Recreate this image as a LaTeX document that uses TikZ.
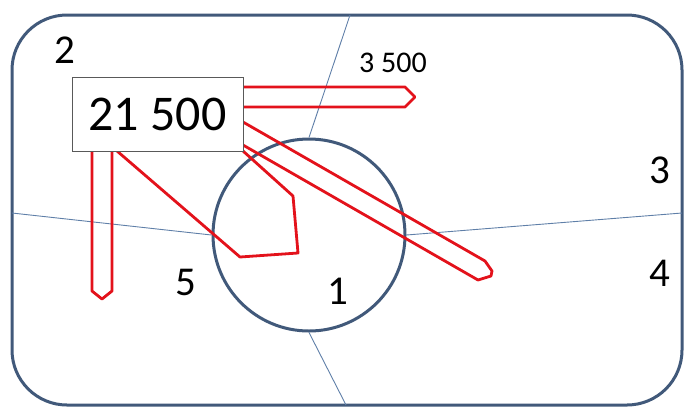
\documentclass[tikz,border=0pt]{standalone}
\usepackage{fontspec}
\setmainfont{Carlito}
\usepackage{tikz}
\usetikzlibrary{positioning}
\definecolor{frameblue}{HTML}{41597A}
\definecolor{splitblue}{HTML}{5F7FA8}
\definecolor{arrowred}{HTML}{E3121B}

\begin{document}
\begin{tikzpicture}[x=1pt, y=-1pt,
  zone/.style={font=\fontsize{41}{44}\selectfont, inner sep=0pt},
  small/.style={font=\fontsize{30}{32}\selectfont, inner sep=0pt},
  total/.style={draw=black!65, line width=0.9pt, fill=white, minimum width=171pt, minimum height=74pt, font=\fontsize{50}{54}\selectfont, inner sep=0pt},
  hub/.style={draw=frameblue, line width=3pt, circle, minimum size=192pt, inner sep=0pt},
  split/.style={draw=splitblue, line width=0.9pt},
  band/.style={draw=arrowred, line width=2.8pt, line join=round}
]
  \useasboundingbox (0,0) rectangle (684,408);
  \draw[frameblue, line width=3pt, rounded corners=55pt] (12,15) rectangle (682,405);

  \coordinate (top) at (350,15);
  \coordinate (left) at (12,213);
  \coordinate (right) at (682,213);
  \coordinate (bottom) at (346,405);
  \node[hub] (circ) at (309,235) {};
  \draw[split] (circ.north) -- (top);
  \draw[split] (circ.west) -- (left);
  \draw[split] (circ.east) -- (right);
  \draw[split] (circ.south) -- (bottom);

  % red bands out of the total
  \draw[band] (243,87) -- (405,87) -- (415,97) -- (405,107) -- (243,107);
  \draw[band] (92,151) -- (92,291) -- (102,299) -- (112,291) -- (112,151);
  \draw[band] (243,122) -- (485,261) -- (492,271) -- (491,276) -- (478,280) -- (243,145);
  \draw[band] (117,151) -- (240,257) -- (298,253) -- (293,196) -- (243,151);

  \node[total] (sum) at (157.5,114) {21 500};

  \node[zone] (z2) at (65,50) {2};
  \node[small] (part) at (393,63) {3 500};
  \node[zone] (z3) at (660,170) {3};
  \node[zone] (z4) at (660,273) {4};
  \node[zone] (z5) at (186,282) {5};
  \node[zone] (z1) at (338,291) {1};
\end{tikzpicture}
\end{document}
